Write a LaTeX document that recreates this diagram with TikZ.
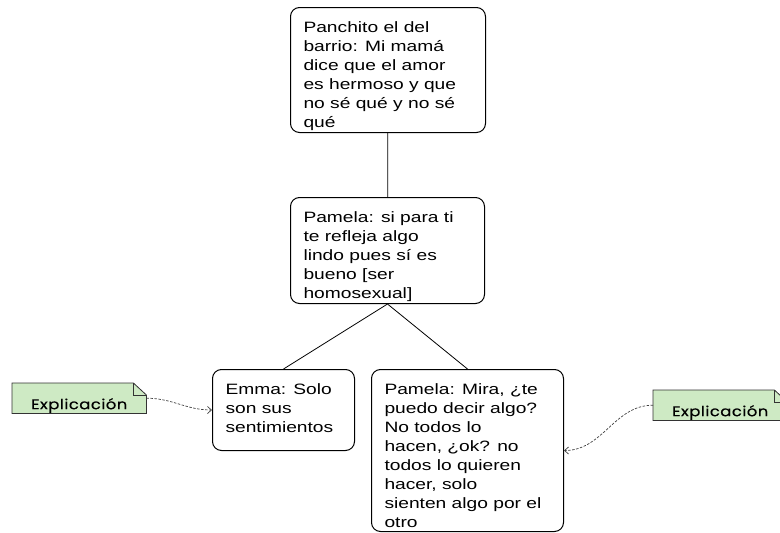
\documentclass[tikz,border=0pt]{standalone}
\usepackage{fontspec}
\setmainfont{Liberation Sans}[FakeStretch=1.28]
\newfontfamily\notefont{Poppins}[FakeStretch=1.18,LetterSpace=3,FakeBold=0.4]
\usetikzlibrary{positioning,arrows.meta,backgrounds}
\definecolor{notegreen}{RGB}{206,234,196}
\newcommand\dialog[2]{\parbox[t]{#1}{\raggedright\fontsize{15}{19}\selectfont #2}}
\tikzset{
    dialog box/.style={
        draw,line width=1pt,rounded corners=9pt,
        anchor=north west,
        inner xsep=13pt,inner ysep=0pt,
        text height=25pt
    },
    note box/.style={
        anchor=north west,
        minimum width=134pt,inner sep=0pt,
        text height=26pt,text depth=4pt,
        font=\notefont\fontsize{14}{16}\selectfont
    },
    >={Straight Barb[length=4pt,width=7pt]},
}
\tikzstyle{link}     = [line width=0.8pt]
\tikzstyle{dashlink} = [->,line width=0.7pt,dash pattern=on 2.5pt off 1.5pt,black!75]

\begin{document}
\begin{tikzpicture}[x=1pt,y=-1pt]
		\useasboundingbox (0,0) rectangle (780,533);
		\clip (0,0) rectangle (780,533);
		\node[dialog box,text depth=100pt] (panchito) at (290,7) {\dialog{169pt}{Panchito el del\\barrio: Mi mamá\\dice que el amor\\es hermoso y que\\no sé qué y no sé\\qué}};
		\node[dialog box,text depth=81pt] (pamela) at (290,197) {\dialog{168pt}{Pamela: si para ti\\te refleja algo\\lindo pues sí es\\bueno [ser\\homosexual]}};
		\node[dialog box,text depth=56pt] (emma) at (212,369) {\dialog{116pt}{Emma: Solo\\son sus\\sentimientos}};
		\node[dialog box,text depth=137pt] (mira) at (371,369) {\dialog{166pt}{Pamela: Mira, ¿te\\puedo decir algo?\\No todos lo\\hacen, ¿ok? no\\todos lo quieren\\hacer, solo\\sienten algo por el\\otro}};
		\draw[link] (panchito) -- (pamela);
		\draw[link] (pamela.south) -- (emma.north);
		\draw[link] (pamela.south) -- (mira.north);

		% notes
		\node[note box] (nota1) at (12,383) {Explicación};
		\node[note box] (nota2) at (653,390) {Explicación};
		\begin{scope}[on background layer]
		\foreach \n in {nota1,nota2} {
			\filldraw[fill=notegreen,draw=black!80,line width=0.8pt] (\n.north west) -- ([xshift=-13pt]\n.north east) -- ([yshift=-12pt]\n.north east) -- (\n.south east) -- (\n.south west) -- cycle;
			\draw[black!80,line width=0.6pt] ([xshift=-13pt]\n.north east) -- ([xshift=-13pt,yshift=-12pt]\n.north east) -- ([yshift=-12pt]\n.north east);
		}
		\end{scope}
		\draw[dashlink] (nota1.east) to[out=0,in=180] (emma.west);
		\draw[dashlink] (nota2.west) to[out=180,in=0] (mira.east);
	\end{tikzpicture}
\end{document}
